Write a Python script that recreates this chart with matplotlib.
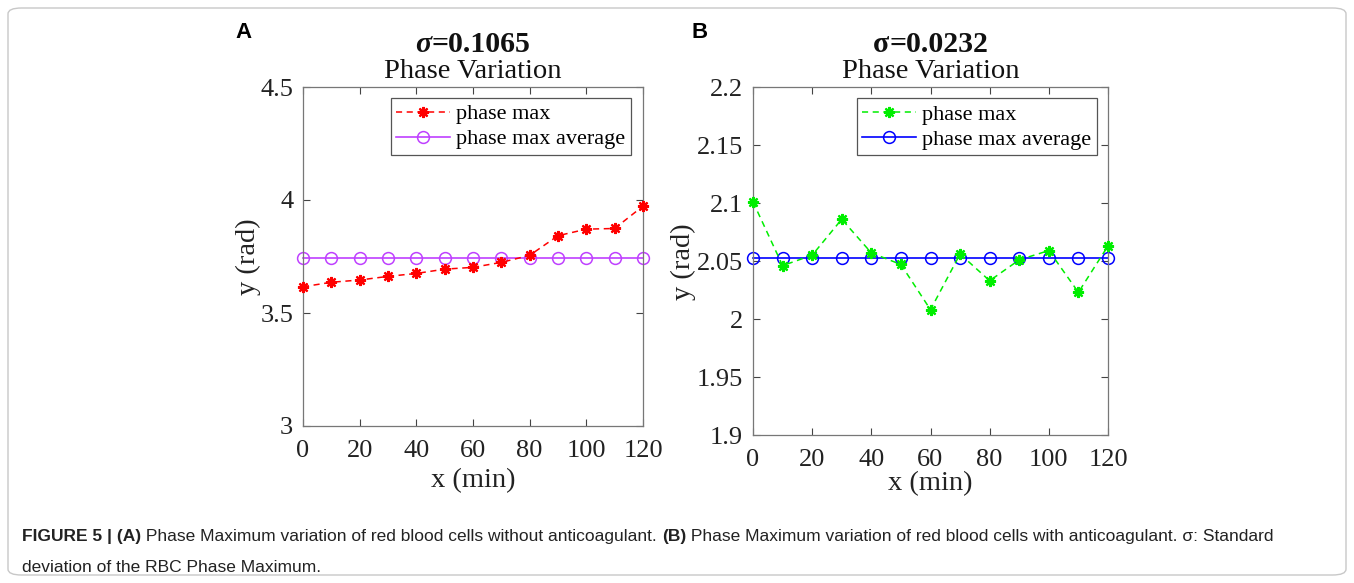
import matplotlib
matplotlib.use("Agg")
from matplotlib import pyplot as plt
from matplotlib.patches import FancyBboxPatch

# data
minutes = [0, 10, 20, 30, 40, 50, 60, 70, 80, 90, 100, 110, 120]
phase_a = [3.616, 3.636, 3.646, 3.662, 3.675, 3.694, 3.702, 3.724, 3.755,
           3.842, 3.871, 3.874, 3.973]
avg_a = 3.743
phase_b = [2.101, 2.046, 2.055, 2.086, 2.057, 2.047, 2.008, 2.056, 2.033,
           2.051, 2.059, 2.023, 2.063]
avg_b = 2.0524
sigma_a = "0.1065"
sigma_b = "0.0232"
yticks_a = [3, 3.5, 4, 4.5]
ytick_labels_a = ["3", "3.5", "4", "4.5"]
yticks_b = [1.9, 1.95, 2.0, 2.05, 2.1, 2.15, 2.2]
ytick_labels_b = ["1.9", "1.95", "2", "2.05", "2.1", "2.15", "2.2"]
xticks = [0, 20, 40, 60, 80, 100, 120]

serif = ["Liberation Serif", "DejaVu Serif"]
sans = ["Liberation Sans", "DejaVu Sans"]
W, H = 1354, 583
fig = plt.figure(figsize=(W / 100, H / 100), dpi=100)
fig.canvas.draw()
renderer = fig.canvas.get_renderer()


def px(x, y):
    return x / W, 1 - y / H


# outer frame
frame = FancyBboxPatch((8 / W, 8 / H), 1 - 16 / W, 1 - 16 / H,
                       boxstyle="round,pad=0,rounding_size=0.01",
                       transform=fig.transFigure, fill=False,
                       edgecolor="#c8c8c8", linewidth=1.0)
fig.patches.append(frame)

star = (8, 2, 0)


def make_ax(rect, y, avg, ycol, acol, ylim, yticks, ylabels, sig, sig_italic,
            ylab_xy, xlab_y, leg_x):
    l, t, r, b = rect
    ax = fig.add_axes([l / W, 1 - b / H, (r - l) / W, (b - t) / H])
    ax.plot(minutes, y, linestyle="--", color=ycol, marker=star,
            markersize=8, markeredgewidth=1.6, linewidth=1.1,
            dashes=(4, 3), label="phase max", zorder=3, clip_on=False)
    ax.plot(minutes, [avg] * len(minutes), linestyle="-", color=acol,
            marker="o", markerfacecolor="none", markersize=8.5,
            markeredgewidth=1.1, linewidth=1.2, label="phase max average",
            zorder=2, clip_on=False)
    ax.set_xlim(0, 120)
    ax.set_ylim(*ylim)
    ax.set_xticks(xticks)
    ax.set_yticks(yticks)
    ax.set_yticklabels(ylabels)
    ax.tick_params(axis="both", direction="in", top=True, right=True,
                   length=5, color="#444444", labelsize=19)
    ax.tick_params(axis="x", pad=10)
    ax.tick_params(axis="y", pad=7)
    for lab in ax.get_xticklabels() + ax.get_yticklabels():
        lab.set_family(serif)
        lab.set_color("#222222")
    for sp in ax.spines.values():
        sp.set_color("#777777")
        sp.set_linewidth(0.9)
    cx = (l + r) / 2
    fig.text(*px(cx, xlab_y), "x (min)", family=serif, fontsize=20.5,
             color="#222222", ha="center", va="center")
    fig.text(*px(*ylab_xy), "y (rad)", family=serif, fontsize=20.5,
             color="#222222", ha="center", va="center", rotation=90)
    fig.text(*px(cx, 72), "Phase Variation", family=serif, fontsize=20.5,
             color="#111111", ha="center", va="center")
    # sigma title: symbol + value, measured so the pair is centred
    s1 = fig.text(0, 0, "\u03c3", family=serif, fontsize=21.5,
                  fontweight="bold", fontstyle="italic" if sig_italic else "normal")
    s2 = fig.text(0, 0, "=" + sig, family=serif, fontsize=21.5,
                  fontweight="bold")
    w1 = s1.get_window_extent(renderer=renderer).width
    w2 = s2.get_window_extent(renderer=renderer).width
    x0 = cx - (w1 + w2) / 2
    for s in (s1, s2):
        s.set_color("#111111")
        s.set_va("baseline")
    s1.set_position(px(x0, 52))
    s2.set_position(px(x0 + w1, 52))
    leg = ax.legend(loc="upper right", bbox_to_anchor=(leg_x, 0.967),
                    prop={"family": serif, "size": 16}, fancybox=False,
                    framealpha=1, edgecolor="#555555", borderpad=0.25,
                    handlelength=2.4, handletextpad=0.3, labelspacing=0.2,
                    borderaxespad=0)
    leg.get_frame().set_linewidth(0.9)
    return ax


make_ax((303, 87, 643, 426), phase_a, avg_a, "#ff0000", "#bf40ff",
        (3, 4.5), yticks_a, ytick_labels_a, sigma_a, True, (248, 257), 481,
        0.965)
make_ax((753, 87, 1108, 435), phase_b, avg_b, "#00ee00", "#0000ff",
        (1.9, 2.2), yticks_b, ytick_labels_b, sigma_b, False, (683, 262), 484,
        0.969)

fig.text(*px(244, 33), "A", family=sans, fontsize=16, fontweight="bold",
         ha="center", va="center")
fig.text(*px(700, 33), "B", family=sans, fontsize=16, fontweight="bold",
         ha="center", va="center")

cap_y1 = 536
cap_y2 = 567
parts = [("FIGURE 5 | (A)", "bold"),
         (" Phase Maximum variation of red blood cells without anticoagulant. ", "normal"),
         ("(B)", "bold"),
         (" Phase Maximum variation of red blood cells with anticoagulant. \u03c3: Standard", "normal")]
x = 22
for s, w in parts:
    t = fig.text(*px(x, cap_y1), s, family=sans, fontsize=12.5, fontweight=w,
                 ha="left", va="center", color="#222222")
    x += t.get_window_extent(renderer=renderer).width
fig.text(*px(22, cap_y2), "deviation of the RBC Phase Maximum.", family=sans,
         fontsize=12.5, ha="left", va="center", color="#222222")

fig.savefig("out.png", dpi=100)
